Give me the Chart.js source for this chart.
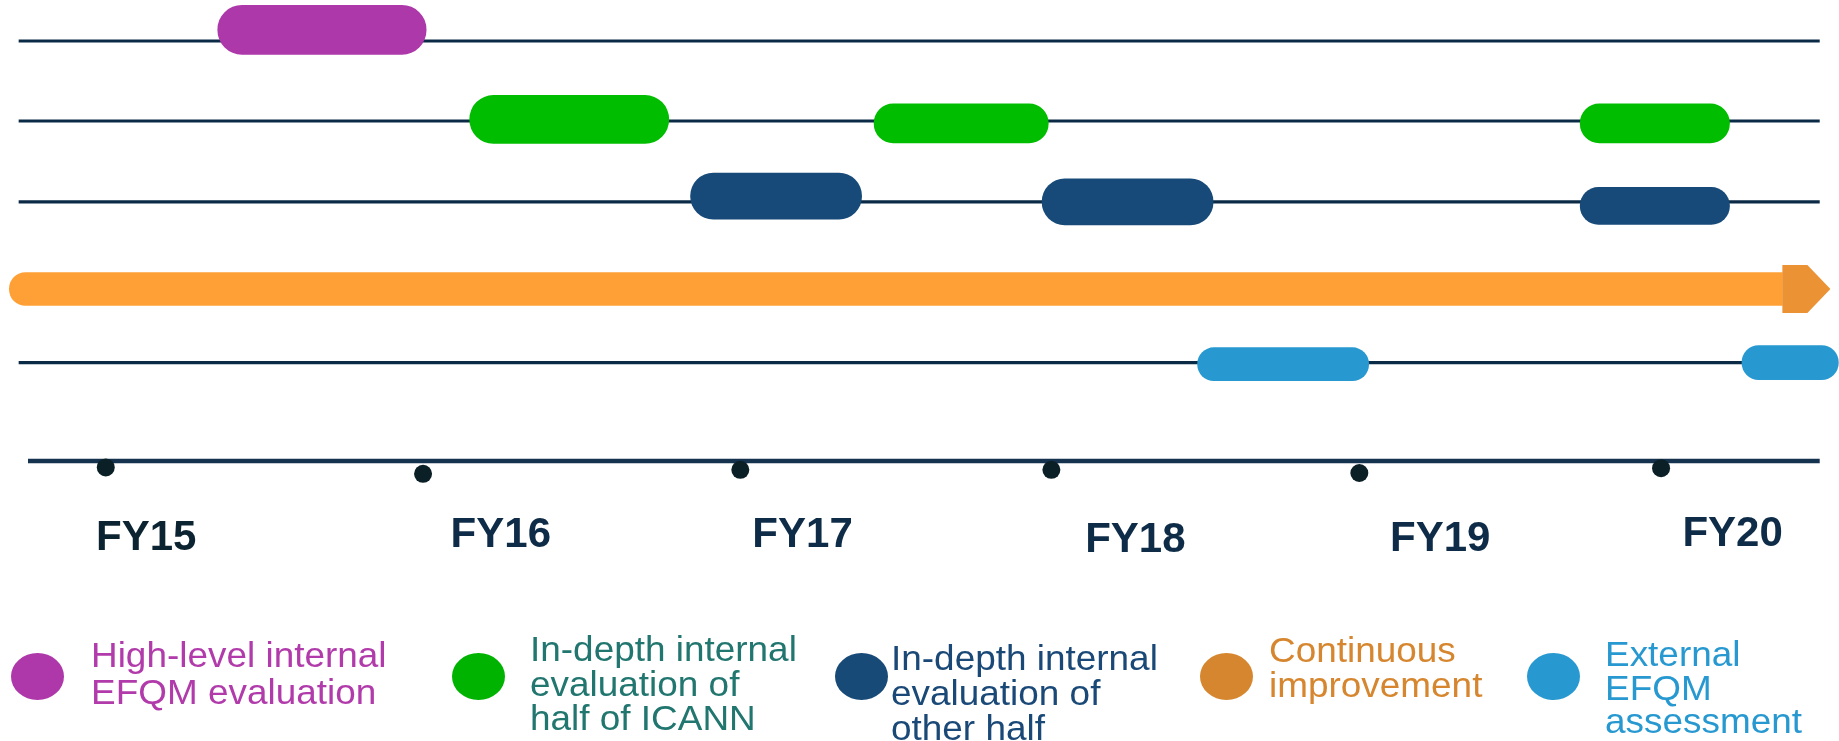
<!DOCTYPE html>
<html>
<head>
<meta charset="utf-8">
<title>EFQM evaluation timeline FY15–FY20</title>
<script src="https://cdn.jsdelivr.net/npm/chart.js@4.4.1/dist/chart.umd.min.js"></script>
<style>
  html, body { margin: 0; padding: 0; background: #ffffff; }
  #stage {
    position: relative; width: 1839px; height: 741px; overflow: hidden;
    font-family: "Liberation Sans", Arial, sans-serif;
  }
  #plot { position: absolute; left: 0; top: 0; width: 1839px; height: 741px; }
  .swatch { position: absolute; border-radius: 50%; }
  .key-text {
    position: absolute; font-size: 35px; white-space: nowrap;
    transform: scaleX(1.055); transform-origin: 0 0;
  }
</style>
</head>
<body>
<div id="stage">
  <div id="plot"><canvas id="timeline"></canvas></div>
  <div id="legend"></div>
</div>
<script>
// ---- Timeline values: x in fiscal years, y in row units (row 1 at the top) ----
const fiscalYears = ['FY15', 'FY16', 'FY17', 'FY18', 'FY19', 'FY20'];
const milestoneAt = [15.00, 16.02, 17.04, 18.04, 19.03, 20.00];
const milestoneRow = [6.33, 6.41, 6.36, 6.36, 6.40, 6.34];
const yearLabelAt = [15.13, 16.27, 17.24, 18.31, 19.29, 20.23];
const yearLabelRow = [7.36, 7.32, 7.33, 7.39, 7.38, 7.31];

const seriesNames = [
  ['High-level internal', 'EFQM evaluation'],
  ['In-depth internal', 'evaluation of', 'half of ICANN'],
  ['In-depth internal', 'evaluation of', 'other half'],
  ['Continuous', 'improvement'],
  ['External', 'EFQM', 'assessment']
];

// activity periods [start, end] and the row each one sits on
const highLevelSpans = [[15.36, 16.03]];
const highLevelRows = [0.86];
const firstHalfSpans = [[16.17, 16.81], [17.47, 18.03], [19.74, 20.22]];
const firstHalfRows = [1.98, 2.03, 2.03];
const otherHalfSpans = [[16.88, 17.43], [18.01, 18.56], [19.74, 20.22]];
const otherHalfRows = [2.94, 3.01, 3.06];
const continuousSpans = [[14.69, 20.39]];
const continuousRows = [4.10];
const externalSpans = [[18.51, 19.06], [20.26, 20.57]];
const externalRows = [5.04, 5.02];

// background tracks and the year axis
const trackRows = [1.00, 2.00, 3.01, 5.02];
const trackSpan = [14.72, 20.51];
const axisRow = 6.25;
const axisSpan = [14.75, 20.51];

// ---- Styles ----
const seriesColors = ['#ad38aa', '#00bd00', '#174a78', '#ffa037', '#2799d0'];
const barThickness = [[49], [48, 39, 39], [46, 46, 37], [33], [33, 34]];
const arrowHeadColor = '#ea9234';
const trackColor = '#0b2a46';
const axisColor = '#15324f';
const milestoneColor = '#0b1f26';
const yearLabelColors = ['#0c2331', '#0e2c47', '#0e2c47', '#0e2c47', '#0e2c47', '#0e2c47'];

const legendDotColors = ['#ae38a9', '#00b300', '#184a78', '#d6862e', '#2799d0'];
const legendTextColors = ['#b13baa', '#21766f', '#1a4977', '#d6862e', '#2899d0'];
const legendLayout = [
  { cx: 37,   cy: 676, w: 53, h: 47, left: 91,   top: 637.2, lh: 36.6 },
  { cx: 478,  cy: 676, w: 53, h: 47, left: 530,  top: 632.4, lh: 34.2 },
  { cx: 861,  cy: 676, w: 53, h: 47, left: 891,  top: 640.3, lh: 35 },
  { cx: 1226, cy: 676, w: 53, h: 47, left: 1269, top: 633.2, lh: 34.6 },
  { cx: 1553, cy: 676, w: 53, h: 47, left: 1605, top: 637.0, lh: 33.7 }
];

// ---- Datasets ----
const groups = [
  { spans: highLevelSpans, rows: highLevelRows },
  { spans: firstHalfSpans, rows: firstHalfRows },
  { spans: otherHalfSpans, rows: otherHalfRows },
  { spans: continuousSpans, rows: continuousRows },
  { spans: externalSpans, rows: externalRows }
];

const datasets = [];
let continuousIndex = -1;

// milestone dots on the year axis (drawn on top)
datasets.push({
  type: 'line',
  data: milestoneAt.map((x, i) => ({ x: x, y: milestoneRow[i] })),
  showLine: false,
  pointRadius: 9,
  pointBackgroundColor: milestoneColor,
  pointBorderWidth: 0,
  order: -1
});

groups.forEach((g, s) => {
  g.spans.forEach((span, i) => {
    if (s === 3 && i === 0) continuousIndex = datasets.length;
    datasets.push({
      type: 'bar',
      label: seriesNames[s].join(' '),
      data: [{ x: span, y: g.rows[i] }],
      backgroundColor: seriesColors[s],
      barThickness: barThickness[s][i],
      borderWidth: 0,
      borderSkipped: false,
      borderRadius: s === 3
        ? { topLeft: 40, bottomLeft: 40, topRight: 0, bottomRight: 0 }
        : 40,
      stack: 'timeline',
      order: 0
    });
  });
});

trackRows.forEach(r => {
  datasets.push({
    type: 'line',
    data: [{ x: trackSpan[0], y: r }, { x: trackSpan[1], y: r }],
    borderColor: trackColor,
    borderWidth: 3.2,
    pointRadius: 0,
    order: 2
  });
});

datasets.push({
  type: 'line',
  data: [{ x: axisSpan[0], y: axisRow }, { x: axisSpan[1], y: axisRow }],
  borderColor: axisColor,
  borderWidth: 4.5,
  pointRadius: 0,
  order: 1
});

// arrow head on the continuous bar and the fiscal-year labels
const timelineDecor = {
  id: 'timelineDecor',
  afterDatasetsDraw(chart) {
    const ctx = chart.ctx;
    const xs = chart.scales.x, ys = chart.scales.y;
    const bar = chart.getDatasetMeta(continuousIndex).data[0];
    const p = bar.getProps(['x', 'y'], true);
    ctx.save();
    ctx.fillStyle = arrowHeadColor;
    ctx.beginPath();
    ctx.moveTo(p.x, p.y - 24);
    ctx.lineTo(p.x + 25, p.y - 24);
    ctx.lineTo(p.x + 48, p.y);
    ctx.lineTo(p.x + 25, p.y + 24);
    ctx.lineTo(p.x, p.y + 24);
    ctx.closePath();
    ctx.fill();

    ctx.font = 'bold 42px "Liberation Sans", Arial, sans-serif';
    ctx.textAlign = 'center';
    ctx.textBaseline = 'alphabetic';
    fiscalYears.forEach((t, i) => {
      ctx.fillStyle = yearLabelColors[i];
      ctx.fillText(t, xs.getPixelForValue(yearLabelAt[i]), ys.getPixelForValue(yearLabelRow[i]));
    });
    ctx.restore();
  }
};

new Chart(document.getElementById('timeline'), {
  type: 'bar',
  data: { datasets: datasets },
  options: {
    indexAxis: 'y',
    responsive: true,
    maintainAspectRatio: false,
    animation: false,
    events: [],
    layout: { padding: 0, autoPadding: false },
    plugins: { legend: { display: false }, tooltip: { enabled: false } },
    scales: {
      x: { type: 'linear', min: 14.66, max: 20.572, display: false, offset: false, stacked: false, grid: { display: false } },
      y: { type: 'linear', min: 0.4875, max: 9.75, reverse: true, display: false, offset: false, grid: { display: false } }
    }
  },
  plugins: [timelineDecor]
});

// ---- Legend ----
const legend = document.getElementById('legend');
seriesNames.forEach((lines, i) => {
  const L = legendLayout[i];
  const dot = document.createElement('div');
  dot.className = 'swatch';
  dot.style.left = (L.cx - L.w / 2) + 'px';
  dot.style.top = (L.cy - L.h / 2) + 'px';
  dot.style.width = L.w + 'px';
  dot.style.height = L.h + 'px';
  dot.style.background = legendDotColors[i];
  legend.appendChild(dot);

  const txt = document.createElement('div');
  txt.className = 'key-text';
  txt.style.left = L.left + 'px';
  txt.style.top = L.top + 'px';
  txt.style.lineHeight = L.lh + 'px';
  txt.style.color = legendTextColors[i];
  txt.innerHTML = lines.join('<br>');
  legend.appendChild(txt);
});
</script>
</body>
</html>
